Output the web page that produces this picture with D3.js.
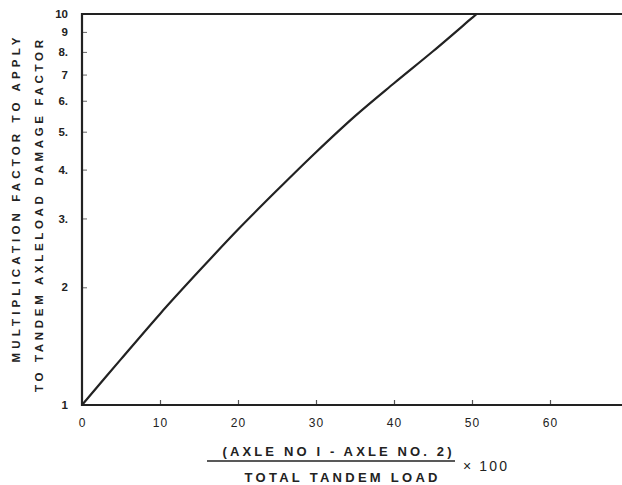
<!doctype html>
<html lang="en">
<head>
  <meta charset="utf-8">
  <title>Tandem axle factor</title>
  <style>
    * { margin: 0; padding: 0; box-sizing: border-box; }
    body { background: #fff; }
    #container { width: 622px; height: 485px; }
    text { font-family: "Liberation Sans", Arial, sans-serif; fill: #222; }
  </style>
</head>
<body>
  <div id="container"></div>
  <script src="https://cdn.jsdelivr.net/npm/d3@7"></script>
  <script>
    // axle load difference (% of tandem load) vs multiplication factor
    const diffPct = [0, 5, 10, 15, 20, 25, 30, 35, 40, 45, 50, 50.6];
    const factor  = [1.0, 1.31, 1.71, 2.20, 2.81, 3.54, 4.43, 5.48, 6.65, 8.03, 9.77, 10.0];

    const xTicks = [0, 10, 20, 30, 40, 50, 60];
    const yTicks = [1, 2, 3, 4, 5, 6, 7, 8, 9, 10];
    const yTickLabels = ['1', '2', '3.', '4.', '5.', '6.', '7', '8.', '9', '10'];

    const data = diffPct.map((d, i) => ({x: d, y: factor[i]}));

    const W = 622, H = 485;
    const svg = d3.select('#container').append('svg')
      .attr('width', W)
      .attr('height', H);

    const x = d3.scaleLinear().domain([0, 70]).range([82, 628]);
    const y = d3.scaleLog().domain([1, 10]).range([405, 14]);

    const ink = '#222';

    // y axis, ticks pointing inward
    const yAxis = svg.append('g')
      .attr('transform', `translate(${x(0)},0)`)
      .call(d3.axisLeft(y)
        .tickValues(yTicks)
        .tickSize(-5)
        .tickPadding(14)
        .tickFormat((d, i) => yTickLabels[i]));
    yAxis.select('.domain').remove();
    yAxis.selectAll('.tick line').attr('stroke', '#666').attr('stroke-width', 1)
      .filter(d => d === 1 || d === 10).remove();
    yAxis.selectAll('.tick text')
      .attr('font-size', 11.5).attr('font-weight', 'bold')
      .attr('font-family', '"Liberation Sans", Arial, sans-serif')
      .attr('fill', ink);

    // x axis, ticks pointing up
    const xAxis = svg.append('g')
      .attr('transform', `translate(0,${y(1)})`)
      .call(d3.axisBottom(x)
        .tickValues(xTicks)
        .tickSize(-5)
        .tickPadding(13)
        .tickFormat(d3.format('d')));
    xAxis.select('.domain').remove();
    xAxis.selectAll('.tick line').attr('stroke', '#555').attr('stroke-width', 1.2)
      .filter(d => d === 0).remove();
    xAxis.selectAll('.tick text')
      .attr('font-size', 12).attr('letter-spacing', 1)
      .attr('font-family', '"Liberation Sans", Arial, sans-serif')
      .attr('fill', ink);

    // frame lines: left, bottom, top
    const frame = svg.append('g').attr('stroke', ink).attr('stroke-width', 2.2);
    frame.append('line').attr('x1', x(0)).attr('x2', x(0)).attr('y1', y(10) - 1).attr('y2', y(1) + 1);
    frame.append('line').attr('x1', x(0)).attr('x2', W).attr('y1', y(1)).attr('y2', y(1));
    frame.append('line').attr('x1', x(0) - 1).attr('x2', W).attr('y1', y(10)).attr('y2', y(10));

    // curve
    const line = d3.line()
      .x(d => x(d.x))
      .y(d => y(d.y))
      .curve(d3.curveCatmullRom);
    svg.append('path')
      .datum(data)
      .attr('d', line)
      .attr('fill', 'none')
      .attr('stroke', ink)
      .attr('stroke-width', 2.2);

    // y title, two rotated lines
    svg.append('text')
      .attr('transform', 'translate(20,200) rotate(-90)')
      .attr('text-anchor', 'middle')
      .attr('font-size', 11.5).attr('font-weight', 'bold')
      .attr('textLength', 325).attr('lengthAdjust', 'spacing')
      .text('MULTIPLICATION FACTOR TO APPLY');
    svg.append('text')
      .attr('transform', 'translate(43,216) rotate(-90)')
      .attr('text-anchor', 'middle')
      .attr('font-size', 11.5).attr('font-weight', 'bold')
      .attr('textLength', 352).attr('lengthAdjust', 'spacing')
      .text('TO TANDEM AXLELOAD DAMAGE FACTOR');

    // x title as a fraction
    svg.append('text')
      .attr('x', 337).attr('y', 456)
      .attr('text-anchor', 'middle')
      .attr('font-size', 13).attr('font-weight', 'bold')
      .attr('textLength', 229).attr('lengthAdjust', 'spacing')
      .text('(AXLE NO I - AXLE NO. 2)');
    svg.append('line')
      .attr('x1', 207).attr('x2', 455).attr('y1', 461).attr('y2', 461)
      .attr('stroke', ink).attr('stroke-width', 1.6);
    svg.append('text')
      .attr('x', 341).attr('y', 482)
      .attr('text-anchor', 'middle')
      .attr('font-size', 13).attr('font-weight', 'bold')
      .attr('textLength', 193).attr('lengthAdjust', 'spacing')
      .text('TOTAL TANDEM LOAD');
    svg.append('text')
      .attr('x', 463).attr('y', 471)
      .attr('font-size', 14)
      .attr('textLength', 44).attr('lengthAdjust', 'spacing')
      .text('× 100');
  </script>
</body>
</html>
